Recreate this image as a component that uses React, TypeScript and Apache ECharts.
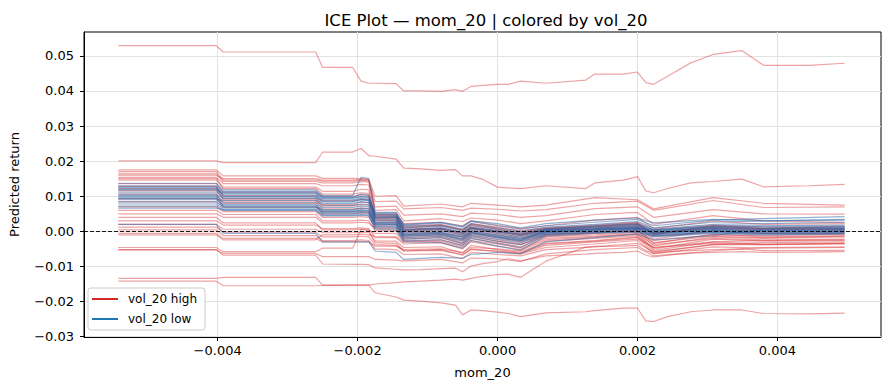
import React, { useEffect, useRef } from "react";
import * as echarts from "echarts";

// All x (mom_20) and y (predicted return) values below are in thousandths (×1e-3).
const UNIT = 1e-3;

const TITLE = "ICE Plot — mom_20 | colored by vol_20";
const X_NAME = "mom_20";
const Y_NAME = "Predicted return";
const HIGH_NAME = "vol_20 high";
const LOW_NAME = "vol_20 low";

const X_TICKS = [-0.004, -0.002, 0, 0.002, 0.004];
const Y_TICKS = [-0.03, -0.02, -0.01, 0, 0.01, 0.02, 0.03, 0.04, 0.05];

// fine grid used for the outlying curves
const X_FINE = [-5.42, -4.02, -3.92, -2.6, -2.5, -2.07, -1.95, -1.84, -1.75, -1.45, -1.34, -1.1, -0.81, -0.6, -0.5, -0.38, -0.21, 0.0, 0.15, 0.33, 0.69, 1.26, 1.39, 1.8, 2.0, 2.12, 2.23, 2.43, 2.76, 3.08, 3.49, 3.8, 4.45, 4.96];

// grid used for the dense band of curves
const X_BAND = [-5.42, -4.02, -3.92, -2.6, -2.5, -2.07, -1.95, -1.84, -1.75, -1.45, -1.34, -0.81, -0.5, -0.38, 0.0, 0.33, 0.69, 1.39, 2.0, 2.23, 3.08, 3.8, 4.96];

// high-vol outlying curves (on X_FINE)
const HIGH_TOP = [52.9, 52.9, 51.1, 51.1, 46.7, 46.7, 42.8, 42.2, 42.2, 42.1, 40.0, 40.0, 39.9, 40.4, 39.9, 41.3, 41.6, 41.9, 41.9, 42.8, 42.2, 43.1, 44.8, 44.8, 45.4, 42.4, 41.9, 44.2, 48.0, 50.4, 51.5, 47.3, 47.3, 47.9];
const HIGH_SECOND = [20.1, 20.1, 19.6, 19.6, 22.6, 22.6, 23.6, 21.6, 21.4, 20.6, 18.0, 17.8, 17.4, 17.6, 15.8, 15.8, 14.8, 12.6, 12.4, 12.2, 13.0, 12.2, 13.8, 14.6, 15.6, 11.5, 11.0, 12.2, 13.8, 14.2, 14.9, 12.7, 13.0, 13.4];
const HIGH_BOTTOM = [-14.2, -14.2, -15.5, -15.5, -15.4, -15.3, -15.3, -15.3, -17.5, -18.7, -19.6, -19.9, -20.4, -21.0, -23.8, -22.4, -22.6, -23.0, -23.4, -24.3, -23.2, -22.9, -22.6, -21.9, -21.9, -25.5, -25.7, -24.3, -22.9, -22.4, -22.4, -23.4, -23.5, -23.3];
const HIGH_LOW2 = [-13.4, -13.4, -13.1, -13.1, -15.3, -15.3, -15.3, -15.3, -15.0, -14.6, -14.4, -14.2, -13.9, -13.6, -13.9, -13.4, -12.8, -12.3, -12.2, -13.1, -8.5, -4.5, -4.3, -4.2, -4.0, -5.5, -6.3, -5.8, -5.5, -5.2, -5.0, -5.5, -5.5, -5.4];
const HIGH_LOW3 = [-5.2, -5.2, -6.8, -6.8, -9.3, -9.4, -9.4, -9.5, -10.4, -10.8, -11.0, -10.9, -10.6, -10.5, -11.5, -9.9, -9.2, -8.6, -7.8, -8.4, -7.0, -6.5, -6.3, -6.0, -5.6, -6.8, -7.3, -6.8, -6.2, -6.0, -5.8, -6.0, -5.9, -5.8];

// high-vol band curves (on X_BAND)
const HIGH_R1 = [17.5, 17.5, 15.8, 15.8, 15.1, 15.1, 15.0, 14.8, 10.0, 10.2, 7.2, 7.8, 7.0, 8.0, 7.5, 7.0, 7.5, 9.6, 9.0, 6.4, 9.6, 8.0, 7.5];
const HIGH_R2 = [17.0, 17.0, 14.6, 14.6, 14.3, 14.3, 14.5, 14.4, 8.5, 8.6, 6.4, 6.8, 6.0, 6.6, 6.3, 5.8, 6.2, 8.0, 8.6, 6.0, 8.8, 6.8, 7.0];
const HIGH_R3 = [16.4, 16.4, 14.2, 14.2, 13.8, 13.8, 14.2, 14.0, 7.0, 7.2, 4.6, 5.0, 4.2, 5.2, 4.8, 4.0, 4.5, 6.5, 7.0, 4.0, 6.2, 5.0, 4.9];
const HIGH_R4 = [16.0, 16.0, 15.0, 15.0, 14.6, 14.6, 14.8, 14.6, 6.0, 6.2, 3.0, 3.6, 2.8, 3.8, 3.2, 2.2, 3.0, 4.8, 5.4, 2.0, 4.5, 3.0, 2.6];
const HIGH_R5 = [15.4, 15.4, 13.6, 13.6, 13.0, 13.0, 13.4, 13.2, 5.0, 5.0, 2.2, 2.6, 1.6, 3.0, 1.8, 0.8, 1.6, 3.2, 4.0, 0.8, 3.0, 2.0, 2.2];
const HIGH_R6 = [14.6, 14.6, 12.6, 12.6, 11.4, 11.4, 12.0, 11.8, 4.0, 4.2, 1.0, 1.6, 0.2, 1.8, 0.6, -0.6, 0.8, 1.6, 2.4, -1.0, 1.6, 0.8, 1.5];
const HIGH_R7 = [9.3, 9.3, 8.6, 8.6, 6.4, 6.4, 6.6, 6.5, 3.0, 3.0, 0.0, 0.4, -1.2, 0.8, -0.6, -1.6, 0.0, 0.6, 1.2, -2.2, 0.2, -0.6, -0.4];
const HIGH_R8 = [12.8, 12.8, 10.2, 10.2, 8.8, 8.8, 9.2, 9.0, 4.6, 4.6, 1.6, 2.0, 0.6, 2.2, 1.2, 0.2, 1.0, 1.8, 2.6, 0.4, 1.8, 1.2, 1.0];
const HIGH_R9 = [11.6, 11.6, 9.4, 9.4, 7.6, 7.6, 8.4, 8.2, 3.6, 3.8, 0.6, 1.0, -0.4, 1.2, 0.2, -0.8, 0.4, 1.2, 2.0, -0.6, 1.0, 0.4, 0.6];
const HIGH_R10 = [8.4, 8.4, 6.8, 6.8, 5.6, 5.6, 5.8, 5.6, 1.8, 2.0, -1.0, -0.6, -2.2, -0.2, -1.6, -2.6, -0.8, -0.2, 0.6, -3.4, -0.8, -1.6, -1.2];
const HIGH_R11 = [5.0, 5.0, 4.0, 4.0, 2.4, 2.4, 2.6, 2.4, 0.8, 0.8, -1.8, -1.4, -3.2, -1.0, -2.4, -3.6, -1.2, -0.6, 0.2, -4.2, -1.6, -2.0, -1.6];
const HIGH_R12 = [4.0, 4.0, 2.4, 2.4, 0.4, 0.4, 0.6, 0.4, -0.6, -0.6, -2.8, -2.4, -4.0, -2.0, -3.2, -4.4, -2.0, -1.4, -0.6, -5.0, -2.2, -2.8, -2.6];
const HIGH_R13 = [3.0, 3.0, 1.8, 1.8, 0.8, 0.8, 1.0, 0.8, -1.8, -1.8, -3.6, -3.2, -5.0, -3.0, -4.2, -5.2, -2.8, -2.0, -1.2, -5.4, -3.0, -3.6, -3.4];
const HIGH_R14 = [2.0, 2.0, 0.6, 0.6, -0.4, -0.4, -0.2, -0.4, -2.8, -2.8, -4.6, -4.4, -6.2, -4.0, -5.2, -6.0, -3.6, -2.8, -1.8, -6.0, -3.8, -3.2, -3.0];
const HIGH_R15 = [1.2, 1.2, -0.2, -0.2, -1.6, -1.6, -1.4, -1.6, -3.8, -4.0, -5.6, -5.2, -6.8, -5.0, -5.8, -6.4, -4.6, -3.6, -2.6, -6.4, -4.4, -4.8, -4.6];
const HIGH_R16 = [0.4, 0.4, -1.2, -1.2, -2.6, -2.6, -2.4, -2.6, -5.0, -5.2, -6.6, -6.4, -7.8, -6.0, -6.6, -7.0, -5.2, -4.4, -3.4, -5.8, -3.8, -3.8, -3.6];
const HIGH_R17 = [-0.6, -0.6, -2.0, -2.0, -3.0, -3.0, -3.0, -3.0, -4.2, -4.2, -5.2, -5.0, -6.0, -4.6, -5.0, -5.6, -3.4, -2.6, -1.6, -4.6, -3.0, -2.6, -2.4];
const HIGH_R18 = [-1.0, -1.0, -2.4, -2.4, -1.0, -1.0, -0.8, -1.0, -1.4, -1.6, -3.0, -2.8, -4.4, -2.6, -3.6, -4.8, -2.4, -1.6, -0.8, -3.8, -2.0, -2.4, -2.2];
const HIGH_R19 = [13.6, 13.6, 11.2, 11.2, 10.0, 10.0, 10.4, 10.2, 3.8, 3.8, 0.2, 0.6, -0.8, 0.8, 0.0, -1.0, 0.4, 1.0, 1.6, -0.4, 1.2, 0.6, 0.4];
const HIGH_R20 = [10.6, 10.6, 8.0, 8.0, 5.0, 5.0, 5.2, 5.0, 2.4, 2.4, -0.4, -0.2, -1.6, 0.2, -1.0, -2.0, -0.4, 0.2, 1.0, -1.4, 0.0, -0.6, -0.6];
const HIGH_R21 = [7.0, 7.0, 5.6, 5.6, 4.0, 4.0, 4.2, 4.0, 1.2, 1.2, -1.4, -1.0, -2.6, -0.6, -1.8, -3.0, -1.0, -0.4, 0.4, -2.6, -1.0, -1.2, -0.8];
const HIGH_R22 = [6.0, 6.0, 4.8, 4.8, 3.0, 3.0, 3.2, 3.0, 0.2, 0.2, -2.2, -1.8, -3.6, -1.4, -2.8, -3.8, -1.6, -1.0, -0.2, -3.2, -1.4, -1.8, -1.4];
const HIGH_R23 = [-4.6, -4.6, -5.8, -5.8, -4.8, -4.8, 0.6, 0.2, -3.2, -3.4, -5.6, -5.4, -6.6, -5.2, -5.6, -6.2, -4.0, -3.0, -2.2, -4.6, -3.4, -3.8, -3.4];
const HIGH_R24 = [-5.3, -5.3, -6.3, -6.3, -7.2, -7.2, -7.2, -7.2, -8.0, -8.2, -8.4, -8.0, -9.0, -7.6, -7.8, -8.6, -6.4, -5.2, -4.6, -7.0, -5.6, -4.6, -4.4];
const HIGH_R25 = [12.2, 12.2, 9.0, 9.0, 7.2, 7.2, 7.6, 7.4, 3.2, 3.2, 0.4, 0.8, -0.6, 1.0, -0.2, -1.2, 0.2, 0.8, 1.6, -0.8, 0.8, 0.2, 0.0];
const HIGH_R26 = [15.0, 15.0, 12.2, 12.2, 10.6, 10.6, 11.0, 10.8, 4.4, 4.4, 1.2, 1.8, 0.4, 2.0, 0.8, -0.2, 0.8, 1.4, 2.2, -0.6, 1.4, 0.8, 0.8];

// low-vol band curves (on X_BAND)
const LOW_B1 = [13.7, 13.7, 11.8, 11.8, 10.2, 10.2, 15.4, 15.0, 5.4, 5.4, 1.8, 2.4, 1.2, 2.8, 1.6, 0.6, 1.6, 2.6, 3.4, 1.6, 3.2, 3.6, 4.2];
const LOW_B2 = [13.0, 13.0, 11.4, 11.4, 9.8, 9.8, 10.6, 10.4, 4.8, 4.8, 1.4, 1.8, 0.6, 2.2, 1.0, 0.0, 1.2, 2.0, 2.8, 1.0, 2.6, 3.0, 3.4];
const LOW_B3 = [12.4, 12.4, 11.0, 11.0, 9.4, 9.4, 9.8, 9.6, 4.6, 4.6, 1.0, 1.4, 0.2, 1.6, 0.6, -0.4, 0.8, 1.6, 2.2, 0.6, 2.0, 2.2, 2.6];
const LOW_B4 = [11.8, 11.8, 10.4, 10.4, 9.0, 9.0, 9.4, 9.2, 4.2, 4.2, 0.6, 1.0, -0.2, 1.2, 0.2, -0.8, 0.6, 1.2, 1.8, 0.2, 1.6, 1.6, 1.8];
const LOW_B5 = [11.2, 11.2, 9.8, 9.8, 8.6, 8.6, 9.0, 8.8, 3.8, 3.8, 0.2, 0.6, -0.6, 0.8, -0.2, -1.2, 0.4, 1.0, 1.4, 0.0, 1.2, 1.0, 1.2];
const LOW_B6 = [10.6, 10.6, 9.4, 9.4, 8.0, 8.0, 8.4, 8.2, 3.4, 3.4, -0.2, 0.2, -1.0, 0.4, -0.6, -1.6, 0.2, 0.8, 1.2, -0.2, 0.8, 0.6, 0.8];
const LOW_B7 = [10.0, 10.0, 8.8, 8.8, 7.4, 7.4, 7.8, 7.6, 3.0, 3.0, -0.6, -0.2, -1.4, 0.0, -1.0, -2.0, 0.0, 0.6, 1.0, -0.4, 0.6, 0.2, 0.4];
const LOW_B8 = [9.6, 9.6, 8.2, 8.2, 6.8, 6.8, 7.2, 7.0, 2.6, 2.6, -1.0, -0.6, -1.8, -0.4, -1.4, -2.4, -0.2, 0.4, 0.8, -0.6, 0.4, 0.0, 0.2];
const LOW_B9 = [9.0, 9.0, 7.6, 7.6, 6.2, 6.2, 6.6, 6.4, 2.2, 2.2, -1.4, -1.0, -2.4, -0.8, -1.8, -2.8, -0.4, 0.2, 0.6, -0.8, 0.2, -0.2, 0.0];
const LOW_B10 = [8.4, 8.4, 7.0, 7.0, 5.6, 5.6, 6.0, 5.8, 1.8, 1.8, -1.8, -1.4, -2.8, -1.2, -2.2, -3.2, -0.6, 0.0, 0.4, -1.0, 0.0, -0.4, -0.2];
const LOW_B11 = [7.8, 7.8, 6.4, 6.4, 5.0, 5.0, 5.4, 5.2, 1.4, 1.4, -2.2, -1.8, -3.4, -1.6, -2.8, -3.8, -0.8, -0.2, 0.2, -1.2, -0.2, -0.6, -0.4];
const LOW_B12 = [7.2, 7.2, 6.0, 6.0, 4.6, 4.6, 4.8, 4.6, 1.0, 1.0, -2.6, -2.4, -4.0, -2.0, -3.4, -4.6, -1.0, -0.4, 0.0, -1.4, -0.4, -0.8, -0.6];
const LOW_B13 = [6.6, 6.6, 6.1, 6.1, 4.4, 4.4, 4.6, 4.4, 0.6, 0.4, -3.0, -3.2, -4.8, -2.6, -4.2, -5.4, -1.4, -0.6, -0.2, -1.6, -0.6, -1.0, -0.8];
const LOW_B14 = [2.0, 2.0, -0.6, -0.6, -3.0, -3.0, -3.0, -3.0, -5.6, -6.0, -8.0, -7.4, -7.6, -6.6, -6.0, -6.4, -3.0, -1.8, -0.8, -2.4, -1.2, 0.6, 0.8];
const LOW_B15 = [12.0, 12.0, 10.8, 10.8, 9.6, 9.6, 10.0, 9.8, 5.2, 5.2, 2.0, 2.6, 1.4, 3.0, 2.2, 1.0, 2.2, 3.2, 3.8, 2.4, 3.4, 3.0, 3.2];
const LOW_B16 = [10.2, 10.2, 7.0, 7.0, 5.4, 5.4, 5.6, 5.4, 2.0, 2.0, -1.2, -0.8, -2.2, -0.4, -1.6, -2.6, 0.2, 0.6, 1.0, 0.2, 1.0, 0.8, 1.0];
const LOW_B17 = [12.7, 12.7, 10.0, 10.0, 8.4, 8.4, 9.0, 8.8, 4.0, 4.0, 0.4, 0.8, -0.4, 1.0, 0.0, -1.0, 0.6, 1.4, 2.0, 0.4, 1.4, 1.4, 1.4];
const LOW_B18 = [9.3, 9.3, 7.3, 7.3, 6.0, 6.0, 6.2, 6.0, 2.4, 2.6, -0.8, -0.4, -1.6, -0.2, -1.2, -2.2, -0.2, 0.4, 0.8, -0.4, 0.4, 0.2, 0.4];

const HIGH_FINE_LINES = [HIGH_TOP, HIGH_SECOND, HIGH_BOTTOM, HIGH_LOW2, HIGH_LOW3];
const HIGH_BAND_LINES = [HIGH_R1, HIGH_R2, HIGH_R3, HIGH_R4, HIGH_R5, HIGH_R6, HIGH_R7, HIGH_R8, HIGH_R9, HIGH_R10, HIGH_R11, HIGH_R12, HIGH_R13, HIGH_R14, HIGH_R15, HIGH_R16, HIGH_R17, HIGH_R18, HIGH_R19, HIGH_R20, HIGH_R21, HIGH_R22, HIGH_R23, HIGH_R24, HIGH_R25, HIGH_R26];
const LOW_BAND_LINES = [LOW_B1, LOW_B2, LOW_B3, LOW_B4, LOW_B5, LOW_B6, LOW_B7, LOW_B8, LOW_B9, LOW_B10, LOW_B11, LOW_B12, LOW_B13, LOW_B14, LOW_B15, LOW_B16, LOW_B17, LOW_B18];

const RED = "#d62728";
const BLUE = "#1f77b4";
const RED_STROKE = "rgba(214,39,40,0.42)";
const BLUE_STROKE = "rgba(40,100,165,0.5)";
const FONT = "DejaVu Sans";

function makeSeries(name: string, xs: number[], ys: number[], color: string, stroke: string, z: number) {
  return {
    type: "line",
    name,
    data: xs.map((x, i) => [x * UNIT, ys[i] * UNIT]),
    symbol: "none",
    showSymbol: false,
    silent: true,
    color,
    z,
    lineStyle: { color: stroke, width: 1.2 },
    emphasis: { disabled: true },
  };
}

const fmtMinus = (v: number, d: number) => (v < 0 ? "\u2212" : "") + Math.abs(v).toFixed(d);

export default function App() {
  const ref = useRef<HTMLDivElement>(null);
  useEffect(() => {
    document.body.style.margin = "0";
    if (!ref.current) return;
    const chart = echarts.init(ref.current, undefined, { renderer: "svg" });
    const series: any[] = [];
    HIGH_FINE_LINES.forEach((ys) => series.push(makeSeries(HIGH_NAME, X_FINE, ys, RED, RED_STROKE, 2)));
    HIGH_BAND_LINES.forEach((ys) => series.push(makeSeries(HIGH_NAME, X_BAND, ys, RED, RED_STROKE, 2)));
    LOW_BAND_LINES.forEach((ys) => series.push(makeSeries(LOW_NAME, X_BAND, ys, BLUE, BLUE_STROKE, 3)));
    series.push({
      type: "line",
      name: "zero",
      data: [],
      silent: true,
      z: 10,
      markLine: {
        silent: true,
        symbol: "none",
        label: { show: false },
        lineStyle: { color: "#000", width: 0.9, type: [4, 2] },
        data: [{ yAxis: 0 }],
        animation: false,
      },
    });
    chart.setOption({
      animation: false,
      title: {
        text: TITLE,
        left: 481,
        textAlign: "center",
        top: 7,
        textStyle: { fontFamily: FONT, fontSize: 16.5, fontWeight: "normal", color: "#000" },
      },
      grid: {
        left: 82,
        top: 32,
        width: 799,
        height: 305,
        show: true,
        borderColor: "#000",
        borderWidth: 1,
        backgroundColor: "transparent",
        containLabel: false,
      },
      legend: {
        left: 88,
        top: 288,
        orient: "vertical",
        data: [
          { name: HIGH_NAME, icon: "rect", itemStyle: { color: RED, borderWidth: 0 } },
          { name: LOW_NAME, icon: "rect", itemStyle: { color: BLUE, borderWidth: 0 } },
        ],
        itemWidth: 26,
        itemHeight: 2,
        itemGap: 6,
        padding: [4, 8, 4, 4],
        backgroundColor: "rgba(255,255,255,0.85)",
        borderColor: "#cccccc",
        borderWidth: 1,
        borderRadius: 3,
        selectedMode: false,
        textStyle: { fontFamily: FONT, fontSize: 12, color: "#000", lineHeight: 14, padding: [0, 0, 0, 5] },
      },
      xAxis: {
        type: "value",
        min: -0.00591,
        max: 0.00548,
        name: X_NAME,
        nameLocation: "middle",
        nameGap: 29,
        nameTextStyle: { fontFamily: FONT, fontSize: 13, color: "#000" },
        axisLine: { show: true, onZero: false, lineStyle: { color: "#000", width: 1 } },
        axisTick: { show: true, length: 4, lineStyle: { color: "#000" }, customValues: X_TICKS },
        axisLabel: {
          customValues: X_TICKS,
          margin: 7,
          fontFamily: FONT,
          fontSize: 13,
          color: "#000",
          formatter: (v: number) => fmtMinus(v, 3),
        },
        splitLine: { show: true, lineStyle: { color: "#e2e2e2", width: 1 } },
      },
      yAxis: {
        type: "value",
        min: -0.0301,
        max: 0.0568,
        name: Y_NAME,
        nameLocation: "middle",
        nameGap: 63,
        nameTextStyle: { fontFamily: FONT, fontSize: 13, color: "#000" },
        axisLine: { show: true, onZero: false, lineStyle: { color: "#000", width: 1 } },
        axisTick: { show: true, length: 4, lineStyle: { color: "#000" }, customValues: Y_TICKS },
        axisLabel: {
          customValues: Y_TICKS,
          margin: 10,
          fontFamily: FONT,
          fontSize: 13,
          color: "#000",
          formatter: (v: number) => fmtMinus(v, 2),
        },
        splitLine: { show: true, lineStyle: { color: "#e2e2e2", width: 1 } },
      },
      series,
    });
    return () => chart.dispose();
  }, []);
  return <div ref={ref} style={{ width: 889, height: 390 }} />;
}
